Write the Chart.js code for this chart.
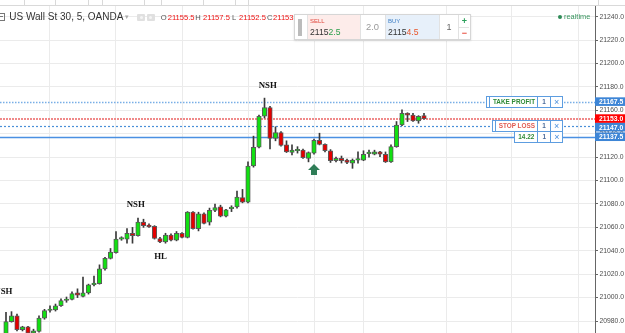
<!DOCTYPE html>
<html><head><meta charset="utf-8">
<script src="https://cdn.jsdelivr.net/npm/chart.js@4.4.1/dist/chart.umd.min.js"></script>
<style>
html,body{margin:0;padding:0;background:#fff;}
#wrap{position:relative;width:625px;height:333px;overflow:hidden;font-family:'Liberation Sans',Arial,sans-serif;}
#c{position:absolute;left:0;top:0;}
.abs{position:absolute;white-space:nowrap;}
#toolbar{left:0;top:0;width:625px;height:5px;background:#fff;border-bottom:1px solid #d9d9d9;}
.sep{position:absolute;top:0;width:1px;height:5px;background:#d9d9d9;}
#panel{left:293.5px;top:14px;width:177px;height:26px;box-sizing:border-box;background:#fff;border:1px solid #d6d6d6;box-shadow:0 1px 2px rgba(0,0,0,.12);}
#panel .cell{position:absolute;top:0;height:24px;box-sizing:border-box;border-right:1px solid #e2e2e2;}
#panel .lbl{position:absolute;left:2.5px;top:3px;font-size:6px;line-height:7px;}
#panel .px{position:absolute;left:2.5px;top:12px;font-size:8.6px;line-height:10px;color:#333;}
.tbox{position:absolute;height:12px;box-sizing:border-box;background:#fff;border:1px solid #5d9de0;display:flex;font-weight:bold;font-size:6.4px;line-height:10px;}
.tbox .tl{box-sizing:border-box;text-align:center;height:10px;}
.tbox .tq{width:12.4px;border-left:1px solid #5d9de0;text-align:center;color:#4a6a9a;}
.tbox .tx{width:11.6px;border-left:1px solid #5d9de0;text-align:center;color:#4a8fdc;font-size:9px;font-weight:normal;}
.grip{box-shadow:inset 2px 0 0 #fff, inset 3px 0 0 #5d9de0;}
</style></head><body>
<div id="wrap">
<canvas id="c" width="625" height="333"></canvas>
<div id="toolbar" class="abs"></div>
<div class="abs" style="left:0;top:13px;width:4px;height:6px;border:1px solid #777;border-left:none;"></div>
<div class="abs" style="left:0;top:16px;width:3px;height:1px;background:#777;"></div>
<div class="abs" style="left:9.3px;top:11px;font-size:10px;line-height:12px;color:#333;">US Wall St 30, 5, OANDA</div>
<div class="abs" style="left:125px;top:12px;font-size:7px;line-height:10px;color:#aaa;">▾</div>
<div class="abs" style="left:137px;top:13.5px;width:8px;height:7px;background:#e0e0e0;border-radius:1px;"></div>
<div class="abs" style="left:139.5px;top:15.5px;width:3px;height:3px;background:#f4f4f4;border-radius:2px;"></div>
<div class="abs" style="left:146.5px;top:13.5px;width:8px;height:7px;background:#e0e0e0;border-radius:1px;"></div>
<div class="abs" style="left:149px;top:15.5px;width:3px;height:3px;background:#f4f4f4;border-radius:2px;"></div>
<div id="ohlc"></div>
<div id="panel" class="abs">
  <div class="abs" style="left:3px;top:4px;width:4px;height:17px;background:radial-gradient(circle,#b9b9b9 0.7px,transparent 0.9px) 0 0/2px 2px;"></div>
  <div class="cell" style="left:12px;width:54px;background:#fdecea;border-left:1px solid #e2e2e2;">
    <div class="lbl" style="color:#e0463c;">SELL</div>
    <div class="px">2115<span style="color:#2a9e4a;">2.5</span></div>
  </div>
  <div class="cell" style="left:66px;width:25px;text-align:center;font-size:9.4px;line-height:24px;color:#9a9a9a;">2.0</div>
  <div class="cell" style="left:91px;width:54.3px;background:#e7f0fa;">
    <div class="lbl" style="color:#3f7fc4;">BUY</div>
    <div class="px">2115<span style="color:#e8552a;">4.5</span></div>
  </div>
  <div class="cell" style="left:145.3px;width:19.4px;text-align:center;font-size:9px;line-height:24px;color:#666;">1</div>
  <div class="cell" style="left:164.7px;width:10.3px;border-right:none;">
    <div class="abs" style="left:0;top:0;width:10.3px;height:12px;border-bottom:1px solid #e2e2e2;text-align:center;font-size:9px;line-height:12px;font-weight:bold;color:#2aa05a;">+</div>
    <div class="abs" style="left:0;top:12px;width:10.3px;height:12px;text-align:center;font-size:9px;line-height:12px;font-weight:bold;color:#e84b3c;">−</div>
  </div>
</div>
<div class="abs" style="left:557.5px;top:14.5px;width:4px;height:4px;border-radius:2px;background:#2e8b57;"></div>
<div class="abs" style="left:564px;top:11.5px;font-size:7.4px;line-height:10px;color:#3a9660;">realtime</div>
<div id="tboxes"></div>
</div>
<script>
// ---- data (5-minute candles, US Wall St 30) ----
const bars = Array.from({length: 77}, (_, i) => i);
const opens = [20967,20979.5,20984.5,20972.5,20975,20969.5,20971,20982.5,20989,20989.5,20993,20997.5,20998.5,21004,21001,21004,21011,21012,21024.5,21033.5,21038.5,21050,21050,21055,21053,21064.5,21062,21061,21050.5,21047.5,21053.5,21049,21055,21051.5,21073,21059,21071.5,21064.5,21074.5,21077.5,21069.5,21076,21077.5,21085.5,21081.5,21112.5,21128.5,21155,21162.5,21136,21141,21130.5,21124,21125.5,21126,21119,21123.5,21134.5,21131,21125.5,21117,21119,21117.5,21115,21117.5,21117.5,21123,21122.5,21124.5,21122.5,21116,21129,21147.5,21157.5,21156,21151,21155.5];
const highs = [20987.5,20988,20986,20975.5,20975.5,20973,20984.5,20990,20993,20994.5,20999,21000.5,21005,21007.5,21017.5,21011.5,21018.5,21028,21034.5,21042,21056.5,21052,21059,21060,21068,21067,21063,21061.5,21051.5,21055,21054.5,21056.5,21055.5,21073.5,21073.5,21073,21072.5,21076.5,21080,21079,21075.5,21078.5,21091,21092.5,21116,21138,21156,21170.5,21163.5,21146,21142,21134,21130.5,21129,21127,21124.5,21135.5,21140.5,21131.5,21126.5,21120,21121,21118.5,21118.5,21124.5,21125.5,21126,21126,21125,21124.5,21130.5,21150.5,21160.5,21158,21157.5,21155.5,21157.5];
const lows = [20965.5,20979,20971.5,20971.5,20968.5,20968.5,20970.5,20981.5,20987.5,20988.5,20992.5,20996,20998,21000,21000.5,21003,21010,21011.5,21023.5,21033,21038,21049,21046.5,21046.5,21052.5,21060,21060,21050,21047,21046.5,21048.5,21048.5,21051,21051,21058.5,21057,21063,21062,21073.5,21069,21069,21073.5,21076.5,21081,21081,21111.5,21128,21153.5,21127,21134,21129.5,21124,21122,21123.5,21119,21116,21122.5,21130.5,21124.5,21115.5,21116,21115,21114.5,21110.5,21115,21117,21120,21122,21120.5,21115.5,21115.5,21128.5,21147,21150.5,21150.5,21149,21152.5];
const closes = [20979.5,20984.5,20972.5,20975,20969.5,20971.5,20982.5,20989,20989.5,20993,20997.5,20998.5,21003.5,21002,21004,21011,21012.5,21024.5,21033.5,21039,21050,21050.5,21055,21053,21064.5,21061.5,21060.5,21050.5,21047.5,21053.5,21049,21055,21051.5,21073,21059,21071.5,21063.5,21074.5,21077,21069.5,21075,21076.5,21086,21081.5,21112.5,21128.5,21155,21162.5,21136,21141,21130,21124.5,21126,21126,21119.5,21124,21134.5,21131,21125.5,21117,21119,21117,21115.5,21117.5,21118.5,21122.5,21123.5,21124.5,21122.5,21116,21129,21147.5,21157.5,21156,21151,21155,21153];
const priceTicks = [20980,21000,21020,21040,21060,21080,21100,21120,21140,21160,21180,21200,21220,21240];
const hourLines = [8,20,32,44,56,65,80,92,104];
const levelPrices = [21167.5, 21153.0, 21147.0, 21137.5];
const levelKinds  = ['tp', 'last', 'sl', 'pos'];
const noteTexts  = ['NSH', 'NSH', 'HL', 'NSH'];
const noteBars   = [-0.47, 23.6, 28.1, 47.6];
const notePrices = [21005, 21079, 21034.7, 21181.3];
const arrowBar = 56, arrowPrice = 21114.2;
const ohlcNames = ['O','H','L','C'];
const ohlcVals = ['21155.5','21157.5','21152.5','21153.0'];
const tradeTexts = ['TAKE PROFIT', 'STOP LOSS', '14.22'];
const tradePrices = [21167.5, 21147.0, 21137.5];
const tradeQty = ['1','1','1'];

// ---- layout / style ----
const PX_PER_PT = 1.17, ANCHOR_PRICE = 20980, ANCHOR_Y = 321, X0 = 6, DX = 5.5;
const UP = '#12e012', DOWN = '#e40000';
const LEVEL_STYLE = {
  tp:   {color:'#78aee6', width:1.5, dash:[1.5,1.5], tag:'#3d85d6'},
  last: {color:'#f08a8a', width:2,   dash:[2,1],     tag:'#ff0000'},
  sl:   {color:'#4a8fd8', width:1.2, dash:[2,2],     tag:'#3d85d6'},
  pos:  {color:'#4a90e2', width:1.5, dash:[],        tag:'#3d85d6'}
};

// header OHLC
(function(){
  const xs = [[160.7,167.7],[195.3,203],[232,239],[267,273]];
  const h = document.getElementById('ohlc');
  ohlcNames.forEach((n,k)=>{
    h.insertAdjacentHTML('beforeend',
      `<div class="abs" style="left:${xs[k][0]}px;top:12.5px;font-size:7.6px;line-height:10px;color:#555;">${n}</div>`+
      `<div class="abs" style="left:${xs[k][1]}px;top:12.5px;font-size:7.6px;line-height:10px;color:#ee1111;">${ohlcVals[k]}</div>`);
  });
  const tb = document.getElementById('toolbar');
  [24,55,88,102,144,161,203,235,248,598].forEach(x=>tb.insertAdjacentHTML('beforeend',`<div class="sep" style="left:${x}px"></div>`));
})();

const levelPlugin = {
  id:'levels',
  beforeDatasetsDraw(chart){
    const {ctx, chartArea:a, scales:{y}} = chart;
    levelPrices.forEach((p,k)=>{
      const s = LEVEL_STYLE[levelKinds[k]];
      const yy = Math.round(y.getPixelForValue(p)) + (s.width===2?0:0.5);
      ctx.save();
      ctx.strokeStyle = s.color; ctx.lineWidth = s.width; ctx.setLineDash(s.dash);
      ctx.beginPath(); ctx.moveTo(a.left, yy); ctx.lineTo(a.right, yy); ctx.stroke();
      ctx.restore();
    });
  },
  afterDatasetsDraw(chart){
    const {ctx, scales:{x,y}} = chart;
    ctx.save();
    ctx.font = 'bold 8.8px "Liberation Serif"';
    ctx.fillStyle = '#111'; ctx.textAlign = 'center'; ctx.textBaseline = 'middle';
    noteTexts.forEach((t,k)=>ctx.fillText(t, x.getPixelForValue(noteBars[k]), y.getPixelForValue(notePrices[k])));
    const ax = x.getPixelForValue(arrowBar), ay = y.getPixelForValue(arrowPrice);
    ctx.fillStyle = '#2f7d57';
    ctx.beginPath();
    ctx.moveTo(ax, ay); ctx.lineTo(ax+6, ay+6); ctx.lineTo(ax+3, ay+6); ctx.lineTo(ax+3, ay+11);
    ctx.lineTo(ax-3, ay+11); ctx.lineTo(ax-3, ay+6); ctx.lineTo(ax-6, ay+6); ctx.closePath(); ctx.fill();
    ctx.restore();
  },
  afterDraw(chart){
    const {ctx, chartArea:a, scales:{y}} = chart;
    const H = 8.6;
    const tags = levelPrices.map((p,k)=>({p, k, c:y.getPixelForValue(p)})).sort((m,n)=>m.c-n.c);
    for (let i=1;i<tags.length;i++) if (tags[i].c < tags[i-1].c + H) tags[i].c = tags[i-1].c + H;
    ctx.save();
    ctx.font = 'bold 6.8px "Liberation Sans"'; ctx.textBaseline = 'middle'; ctx.textAlign = 'left';
    tags.forEach(t=>{
      ctx.fillStyle = LEVEL_STYLE[levelKinds[t.k]].tag;
      ctx.fillRect(a.right, t.c - H/2, 30, H);
      ctx.fillStyle = '#fff';
      ctx.fillText(t.p.toFixed(1), a.right + 4, t.c + 0.5);
    });
    ctx.restore();
  }
};

const chart = new Chart(document.getElementById('c'), {
  type:'bar',
  data:{datasets:[
    {label:'body', data: bars.map(i=>({x:i, y:[opens[i], closes[i]]})),
     backgroundColor: bars.map(i=>closes[i]>=opens[i]?UP:DOWN),
     borderColor:'#5a5a5a', borderWidth:1, borderSkipped:false, barThickness:4.5, minBarLength:1.5,
     grouped:false, order:0},
    {label:'wick', data: bars.map(i=>({x:i, y:[lows[i], highs[i]]})),
     backgroundColor:'#3a3a3a', barThickness:1, grouped:false, order:1}
  ]},
  options:{
    responsive:false, animation:false, events:[],
    layout:{padding:0},
    plugins:{legend:{display:false}, tooltip:{enabled:false}},
    scales:{
      x:{type:'linear', min:-1.09, max:107.09, offset:false,
         grid:{color:'#ebebeb', drawTicks:false, offset:false}, border:{display:false},
         ticks:{display:false},
         afterBuildTicks:s=>{s.ticks = hourLines.map(v=>({value:v}));},
         afterFit:s=>{s.height=0; s.paddingLeft=0; s.paddingRight=0;}},
      y:{type:'linear', position:'right', min:20969.7, max:21254.4, beginAtZero:false,
         grid:{color:'#ebebeb', tickColor:'#666', tickLength:3},
         border:{color:'#666', width:1},
         ticks:{callback:v=>v.toFixed(1), color:'#4d4d4d', padding:1.5, font:{size:6.8, family:'Liberation Sans'}},
         afterBuildTicks:s=>{s.ticks = priceTicks.map(v=>({value:v}));},
         afterFit:s=>{s.width=30; s.paddingTop=0; s.paddingBottom=0;}}
    }
  },
  plugins:[levelPlugin]
});

function fitScales(){
  const a = chart.chartArea, o = chart.options.scales;
  o.y.min = ANCHOR_PRICE - (a.bottom - ANCHOR_Y)/PX_PER_PT;
  o.y.max = o.y.min + (a.bottom - a.top)/PX_PER_PT;
  o.x.min = (a.left - X0)/DX;
  o.x.max = o.x.min + (a.right - a.left)/DX;
  chart.update('none');
}
fitScales(); fitScales();

// trade order labels, placed on their price levels
(function(){
  const lefts = [486, 491.7, 514.3], widths = [77.3, 71.6, 49];
  const colors = ['#2e8a36', '#e05a50', '#2e8a36'];
  const host = document.getElementById('tboxes');
  tradeTexts.forEach((t,k)=>{
    const yy = chart.scales.y.getPixelForValue(tradePrices[k]);
    const grip = k<2 ? ' grip' : '';
    const pad = k<2 ? 'padding-left:4px;' : '';
    host.insertAdjacentHTML('beforeend',
      `<div class="tbox" style="left:${lefts[k]}px;top:${(yy-6).toFixed(1)}px;width:${widths[k]}px;">`+
      `<div class="tl${grip}" style="width:${widths[k]-26}px;color:${colors[k]};${pad}">${t}</div>`+
      `<div class="tq">${tradeQty[k]}</div><div class="tx">×</div></div>`);
  });
})();
</script>
</body></html>
